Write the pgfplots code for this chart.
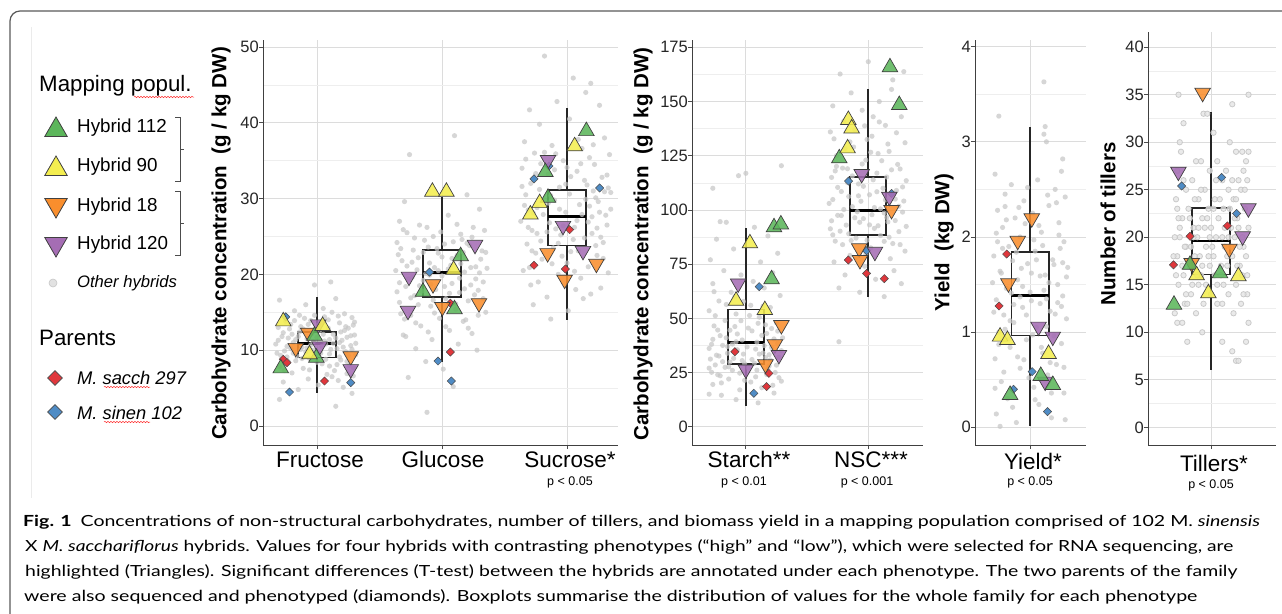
\documentclass[border=0pt]{standalone}
\usepackage{pgfplots}
\pgfplotsset{compat=1.18}
\usetikzlibrary{decorations.pathmorphing}
\usepackage{graphicx}
\usepackage{fontspec}
\setmainfont{Liberation Sans}
\newfontfamily\capfont{Lato}
\definecolor{gridmaj}{HTML}{DCDCDC}
\definecolor{gridmin}{HTML}{EEEEEE}
\definecolor{ptgray}{HTML}{C6C6C6}
\definecolor{hgreen}{HTML}{5CB65B}
\definecolor{hyellow}{HTML}{F4EE50}
\definecolor{horange}{HTML}{F98E2D}
\definecolor{hpurple}{HTML}{A56DB4}
\definecolor{hred}{HTML}{E0373C}
\definecolor{hblue}{HTML}{4F8CC5}
\pgfplotsset{
 panel/.style={
   scale only axis, height=405pt,
   axis lines*=left, axis line style={-, draw=black!75, line width=0.9pt},
   tick align=outside, major tick length=4pt, minor tick length=0pt,
   tick style={draw=black!70, line width=0.8pt},
   xmajorgrids, ymajorgrids, yminorgrids, minor y tick num=1,
   major grid style={draw=gridmaj, line width=0.8pt},
   minor grid style={draw=gridmin, line width=0.6pt},
   xticklabel={\mbox{}},
   yticklabel style={font=\fontsize{16.5}{16.5}\selectfont, text=black!85, inner sep=0pt, xshift=0pt},
   /pgf/number format/assume math mode=true,
 },
 gpt/.style={only marks, mark=*, mark size=2.6pt, color=ptgray, mark options={fill=ptgray, draw=ptgray, fill opacity=0.72, draw opacity=0}},
 gring/.style={only marks, mark=*, mark size=2.7pt, color=ptgray, mark options={draw=ptgray, line width=0.8pt, fill=ptgray!45, fill opacity=0.8, draw opacity=0.9}},
 tup/.style={only marks, mark=triangle*, mark size=9pt, mark options={draw=black!75, line width=0.7pt, fill=#1, fill opacity=0.88}},
 tdn/.style={only marks, mark=triangle*, mark size=9pt, mark options={rotate=180, draw=black!75, line width=0.7pt, fill=#1, fill opacity=0.88}},
 dia/.style={only marks, mark=square*, mark size=2.9pt, mark options={rotate=45, draw=black!70, line width=0.5pt, fill=#1}},
 bx/.style={mark=none, draw=black!85, line width=1.6pt, line cap=rect},
 med/.style={mark=none, draw=black, line width=2.8pt},
}
\begin{document}
\begin{tikzpicture}[x=1pt,y=1pt]
% ---------- overlay (frame, legend, labels, caption) in pixel coordinates
\begin{axis}[at={(0pt,0pt)}, anchor=south west, scale only axis, width=1282pt, height=613pt,
  xmin=0, xmax=1282, ymin=0, ymax=613, y dir=reverse, hide axis, clip=false]
\draw[black!65, line width=1.2pt, rounded corners=10pt] (axis cs:10,640) -- (axis cs:10,11) -- (axis cs:1300,11);
\draw[black!8, line width=0.8pt] (axis cs:31,27) -- (axis cs:31,498);
% legend
\node[anchor=west, inner sep=0pt, font=\fontsize{22.3}{22.3}\selectfont] at (axis cs:39,86) {Mapping popul.};
\draw[red!80, line width=0.5pt, decorate, decoration={snake, segment length=3pt, amplitude=0.7pt}] (axis cs:134,97) -- (axis cs:194,97);
\addplot[only marks, mark=triangle*, mark size=13pt, mark options={fill=hgreen, draw=black!75, line width=0.8pt}] coordinates {(56,130)};
\addplot[only marks, mark=triangle*, mark size=13pt, mark options={fill=hyellow, draw=black!75, line width=0.8pt}] coordinates {(56,169)};
\addplot[only marks, mark=triangle*, mark size=13pt, mark options={rotate=180, fill=horange, draw=black!75, line width=0.8pt}] coordinates {(56,205)};
\addplot[only marks, mark=triangle*, mark size=13pt, mark options={rotate=180, fill=hpurple, draw=black!75, line width=0.8pt}] coordinates {(56,244)};
\addplot[only marks, mark=*, mark size=4pt, mark options={fill=ptgray!50, draw=ptgray, line width=0.6pt}] coordinates {(53,283)};
\addplot[only marks, mark=square*, mark size=5.2pt, mark options={rotate=45, fill=hred, draw=black!70, line width=0.6pt}] coordinates {(55,378)};
\addplot[only marks, mark=square*, mark size=5.2pt, mark options={rotate=45, fill=hblue, draw=black!70, line width=0.6pt}] coordinates {(55,412)};
\node[anchor=west, inner sep=0pt, font=\fontsize{18.8}{18.8}\selectfont] at (axis cs:77,128) {Hybrid 112};
\node[anchor=west, inner sep=0pt, font=\fontsize{18.8}{18.8}\selectfont] at (axis cs:77,167) {Hybrid 90};
\node[anchor=west, inner sep=0pt, font=\fontsize{18.8}{18.8}\selectfont] at (axis cs:77,207) {Hybrid 18};
\node[anchor=west, inner sep=0pt, font=\fontsize{18.8}{18.8}\selectfont] at (axis cs:77,245) {Hybrid 120};
\node[anchor=west, inner sep=0pt, font=\fontsize{16.6}{16.6}\selectfont\itshape] at (axis cs:77,283) {Other hybrids};
\node[anchor=west, inner sep=0pt, font=\fontsize{22.3}{22.3}\selectfont] at (axis cs:39,338) {Parents};
\node[anchor=west, inner sep=0pt, font=\fontsize{18.3}{18.3}\selectfont\itshape] at (axis cs:77,378) {M. sacch 297};
\node[anchor=west, inner sep=0pt, font=\fontsize{18.3}{18.3}\selectfont\itshape] at (axis cs:77,413) {M. sinen 102};
\draw[red!80, line width=0.5pt, decorate, decoration={snake, segment length=3pt, amplitude=0.7pt}] (axis cs:104,387) -- (axis cs:150,387);
\draw[red!80, line width=0.5pt, decorate, decoration={snake, segment length=3pt, amplitude=0.7pt}] (axis cs:104,422) -- (axis cs:150,422);
\draw[black!70, line width=0.8pt] (axis cs:175,117) -- (axis cs:180,117) -- (axis cs:180,181) -- (axis cs:175,181);
\draw[black!70, line width=0.8pt] (axis cs:180,149) -- (axis cs:184,149);
\draw[black!70, line width=0.8pt] (axis cs:175,191) -- (axis cs:180,191) -- (axis cs:180,255) -- (axis cs:175,255);
\draw[black!70, line width=0.8pt] (axis cs:180,223) -- (axis cs:184,223);
% y axis titles
\node[rotate=90, font=\fontsize{20.5}{20.5}\selectfont\bfseries] at (axis cs:221,243.5) {Carbohydrate concentration~ (g / kg DW)};
\node[rotate=90, font=\fontsize{20.5}{20.5}\selectfont\bfseries] at (axis cs:643,244) {Carbohydrate concentration~ (g / kg DW)};
\node[rotate=90, font=\fontsize{20.5}{20.5}\selectfont\bfseries] at (axis cs:944,242.5) {Yield~ (kg DW)};
\node[rotate=90, font=\fontsize{20.5}{20.5}\selectfont\bfseries] at (axis cs:1108,224) {Number of tillers};
% category labels
\node[anchor=base, inner sep=0pt, font=\fontsize{22.5}{22.5}\selectfont] at (axis cs:320,467) {Fructose};
\node[anchor=base, inner sep=0pt, font=\fontsize{22.5}{22.5}\selectfont] at (axis cs:443,467) {Glucose};
\node[anchor=base, inner sep=0pt, font=\fontsize{22.5}{22.5}\selectfont] at (axis cs:570,467) {Sucrose*};
\node[anchor=base, inner sep=0pt, font=\fontsize{22.5}{22.5}\selectfont] at (axis cs:749,467) {Starch**};
\node[anchor=base, inner sep=0pt, font=\fontsize{22.5}{22.5}\selectfont] at (axis cs:871,467) {NSC***};
\node[anchor=base, inner sep=0pt, font=\fontsize{22.5}{22.5}\selectfont] at (axis cs:1033,469) {Yield*};
\node[anchor=base, inner sep=0pt, font=\fontsize{22.5}{22.5}\selectfont] at (axis cs:1214,471) {Tillers*};
\node[anchor=base, inner sep=0pt, font=\fontsize{12.5}{12.5}\selectfont] at (axis cs:570,485) {p < 0.05};
\node[anchor=base, inner sep=0pt, font=\fontsize{12.5}{12.5}\selectfont] at (axis cs:744,485) {p < 0.01};
\node[anchor=base, inner sep=0pt, font=\fontsize{12.5}{12.5}\selectfont] at (axis cs:867,485) {p < 0.001};
\node[anchor=base, inner sep=0pt, font=\fontsize{12.5}{12.5}\selectfont] at (axis cs:1030,485) {p < 0.05};
\node[anchor=base, inner sep=0pt, font=\fontsize{12.5}{12.5}\selectfont] at (axis cs:1211,488) {p < 0.05};
% caption
\node[anchor=base west, inner sep=0pt] at (axis cs:23,526) {\resizebox{1237pt}{\height}{\capfont\fontsize{15.3}{18}\selectfont{\bfseries Fig. 1}\hspace{7pt}Concentrations of non-structural carbohydrates, number of tillers, and biomass yield in a mapping population comprised of 102 M. \textit{sinensis}}};
\node[anchor=base west, inner sep=0pt] at (axis cs:25,551) {\resizebox{1208pt}{\height}{\capfont\fontsize{15.3}{18}\selectfont X \textit{M. sacchariflorus} hybrids. Values for four hybrids with contrasting phenotypes (“high” and “low”), which were selected for RNA sequencing, are}};
\node[anchor=base west, inner sep=0pt] at (axis cs:25,576) {\resizebox{1212pt}{\height}{\capfont\fontsize{15.3}{18}\selectfont highlighted (Triangles). Significant differences (T-test) between the hybrids are annotated under each phenotype. The two parents of the family}};
\node[anchor=base west, inner sep=0pt] at (axis cs:24,601) {\resizebox{1173pt}{\height}{\capfont\fontsize{15.3}{18}\selectfont were also sequenced and phenotyped (diamonds). Boxplots summarise the distribution of values for the whole family for each phenotype}};
\end{axis}

% ---------- Panel 1: sugars
\begin{axis}[panel, at={(263pt,168pt)}, anchor=south west, width=355pt,
  xmin=-0.432, xmax=2.408, ymin=-2.51, ymax=50.92, xtick={0,1,2}, ytick={0,10,20,30,40,50}]
\addplot[gpt] coordinates {
(-0.30,16.6) (-0.02,18.6) (0.11,19.0) (0.15,16.8) (-0.18,15.2) (0.05,15.5) (-0.25,14.5) (0.22,14.8) (-0.10,14.2) (0.28,14.3)
(-0.31,13.0) (0.18,13.6) (-0.05,13.9) (0.09,14.0) (-0.22,12.8) (0.25,12.9) (-0.14,12.4) (0.02,12.6) (0.30,12.0) (-0.28,11.8)
(0.13,12.1) (-0.08,11.5) (0.20,11.3) (-0.19,11.0) (0.06,11.2) (-0.33,10.8) (0.27,10.6) (-0.12,10.4) (0.16,10.2) (-0.03,10.0)
(0.23,9.8) (-0.26,9.9) (0.10,9.5) (-0.16,9.2) (0.31,9.4) (-0.06,8.9) (0.19,8.7) (-0.23,8.5) (0.04,8.2) (0.26,8.0)
(-0.30,7.8) (-0.11,7.6) (0.14,7.3) (-0.20,7.0) (0.08,6.8) (0.29,6.6) (-0.07,6.2) (0.17,6.0) (-0.27,5.8) (0.01,5.4)
(0.21,5.1) (-0.15,4.8) (0.28,4.3) (-0.30,3.5) (0.15,2.6) (-0.21,13.4) (0.12,15.0) (-0.09,16.0) (0.24,11.7) (-0.04,12.2)
(0.07,10.8) (-0.24,10.5) (0.18,9.1) (-0.13,13.1) (0.29,13.3) (0.00,8.4) (-0.17,11.4) (0.10,7.9) (-0.32,9.6) (0.24,6.9)
(-0.27,12.3) (-0.21,10.2) (-0.15,11.8) (-0.09,9.8) (-0.03,11.1) (0.03,9.6) (0.09,12.9) (0.15,11.6) (0.21,10.4) (0.27,11.9)
(-0.29,9.3) (-0.23,11.6) (-0.17,8.6) (-0.11,12.8) (-0.05,10.7) (0.01,13.3) (0.07,8.8) (0.13,10.9) (0.19,12.4) (0.25,9.3)
(0.31,10.9) (-0.25,13.8) (-0.19,9.6) (-0.13,10.1) (-0.07,13.4) (-0.01,9.2) (0.05,12.1) (0.11,10.1) (0.17,14.5) (0.23,13.1)
(0.29,7.7) (-0.31,11.3) (-0.26,7.3) (-0.20,12.1) (-0.14,14.6) (-0.08,10.3) (-0.02,14.6) (0.04,10.5) (0.10,11.4) (0.16,8.1)
(0.22,12.6) (0.28,10.1) (-0.24,9.1) (-0.18,13.9) (-0.12,8.9) (-0.06,7.4) (0.00,11.7) (0.06,14.4) (0.12,6.5) (0.18,11.0) (0.24,8.5) (0.30,13.7)
(0.74,35.8) (1.10,38.3) (0.88,1.8) (0.70,29.6) (1.20,30.5) (1.30,28.6) (0.66,27.0) (0.82,26.5) (1.05,27.8) (1.25,26.2)
(0.72,25.5) (0.93,25.0) (1.15,25.3) (1.34,25.8) (0.64,24.2) (0.86,24.5) (1.02,24.0) (1.22,23.8) (0.77,23.2) (0.97,22.8)
(1.12,22.5) (1.31,22.0) (0.68,21.8) (0.90,21.5) (1.07,21.2) (1.27,21.0) (0.80,20.6) (1.00,19.8) (1.18,20.3) (0.63,20.5)
(0.85,19.2) (1.08,18.8) (1.33,19.0) (0.71,18.4) (0.95,18.0) (1.14,17.6) (1.29,17.9) (0.78,17.2) (1.03,16.8) (1.21,16.5)
(0.66,16.3) (0.91,15.8) (1.11,15.4) (1.35,15.0) (0.75,14.6) (0.98,14.2) (1.17,13.8) (0.83,13.2) (1.06,12.6) (1.24,12.2)
(0.69,12.0) (0.92,11.4) (1.13,10.8) (0.79,10.2) (1.28,10.0) (0.87,8.5) (1.01,7.5) (0.73,6.4) (1.09,5.2) (0.65,22.6)
(0.89,23.6) (1.16,24.6) (0.76,19.6) (1.23,18.6) (0.94,20.9) (1.36,20.8) (0.81,16.0) (1.19,14.0) (0.67,14.8)
(0.66,18.9) (0.72,21.1) (0.78,24.8) (0.84,17.8) (0.90,19.9) (0.96,23.4) (1.02,18.4) (1.08,22.1) (1.14,19.5) (1.20,24.1)
(1.26,17.3) (1.32,23.1) (0.69,25.9) (0.75,16.9) (0.81,22.2) (0.87,20.1) (0.93,16.6) (0.99,25.6) (1.05,20.7) (1.11,16.1)
(1.17,22.9) (1.23,20.9) (1.29,14.6) (1.35,22.9) (0.64,17.7) (0.70,14.1) (0.76,21.6) (0.82,18.5) (0.88,26.2) (0.94,14.9)
(1.00,22.3) (1.06,17.5) (1.12,26.6) (1.18,18.1) (1.24,24.9) (1.30,20.2) (0.67,23.4) (0.73,19.4) (0.79,13.6) (0.85,22.9)
(0.91,18.7) (0.97,20.5) (1.03,13.1) (1.09,24.3) (1.15,21.4) (1.21,12.9) (1.27,19.4) (1.33,16.8) (0.71,11.8) (0.89,12.4)
(1.82,48.8) (2.05,45.9) (2.19,45.2) (2.15,44.0) (1.92,42.8) (1.70,41.7) (2.26,42.3) (1.78,39.8) (2.02,40.5) (2.30,38.0)
(1.66,37.5) (1.88,37.0) (2.12,36.6) (2.34,35.8) (1.74,36.0) (1.97,35.0) (2.22,34.5) (1.64,34.0) (1.85,33.2) (2.08,33.6)
(2.28,32.8) (1.71,32.0) (1.94,31.5) (2.16,31.8) (2.35,30.8) (1.67,30.5) (1.90,29.8) (2.10,29.2) (2.25,29.6) (1.76,28.8)
(1.99,28.2) (2.20,27.6) (1.63,27.0) (1.86,26.8) (2.06,26.2) (2.32,26.5) (1.72,25.8) (1.95,25.2) (2.14,24.8) (2.29,24.2)
(1.68,24.0) (1.89,23.5) (2.03,23.0) (2.24,22.5) (1.80,22.0) (2.00,21.5) (2.17,21.0) (1.65,20.5) (1.93,20.0) (2.11,19.5)
(2.33,20.2) (1.77,19.0) (2.07,18.0) (2.27,18.2) (1.84,17.0) (2.13,16.8) (1.73,16.0) (2.01,15.2) (1.87,14.1) (2.21,31.0)
(1.79,34.6) (2.18,29.0) (1.69,28.5) (2.09,37.8) (2.31,27.8) (1.91,26.0) (2.23,23.8) (1.75,22.8)
(1.66,29.1) (1.72,23.1) (1.78,31.2) (1.84,25.6) (1.90,33.8) (1.96,22.4) (2.02,30.6) (2.08,27.1) (2.14,32.4) (2.20,25.4)
(2.26,28.2) (2.32,33.1) (1.69,26.2) (1.75,33.3) (1.81,27.9) (1.87,30.4) (1.93,24.1) (1.99,31.9) (2.05,24.6) (2.11,34.6)
(2.17,26.9) (2.23,30.1) (2.29,22.1) (2.35,28.6) (1.64,31.6) (1.70,20.9) (1.76,25.4) (1.82,36.1) (1.88,21.4) (1.94,28.6)
(2.00,34.1) (2.06,20.4) (2.12,27.9) (2.18,35.4) (2.24,26.1) (2.30,30.9) (1.67,35.2) (1.73,28.1) (1.79,24.4) (1.85,29.4)
(1.91,35.9) (1.97,26.4) (2.03,32.9) (2.09,23.1) (2.15,29.9) (2.21,37.1) (2.27,24.9) (2.33,31.4) (1.71,18.6) (2.19,17.4)
};
% boxes: Fructose, Glucose, Sucrose
\addplot[bx] coordinates {(-0.152,9.05) (0.152,9.05) (0.152,12.4) (-0.152,12.4) (-0.152,9.05)};
\addplot[bx] coordinates {(0,12.4) (0,16.9)};
\addplot[bx] coordinates {(0,9.05) (0,4.4)};
\addplot[med] coordinates {(-0.152,10.9) (0.152,10.9)};
\addplot[bx] coordinates {(0.848,17.0) (1.152,17.0) (1.152,23.2) (0.848,23.2) (0.848,17.0)};
\addplot[bx] coordinates {(1,23.2) (1,30.1)};
\addplot[bx] coordinates {(1,17.0) (1,8.6)};
\addplot[med] coordinates {(0.848,20.2) (1.152,20.2)};
\addplot[bx] coordinates {(1.848,23.8) (2.152,23.8) (2.152,31.1) (1.848,31.1) (1.848,23.8)};
\addplot[bx] coordinates {(2,31.1) (2,41.8)};
\addplot[bx] coordinates {(2,23.8) (2,14.1)};
\addplot[med] coordinates {(1.848,27.6) (2.152,27.6)};
\addplot[dia=hred] coordinates {(-0.27,8.8) (-0.24,8.35) (0.06,5.93) (1.067,9.75) (1.067,16.2) (1.736,21.2) (1.987,20.7) (2.021,25.9)};
\addplot[dia=hblue] coordinates {(-0.22,4.48) (0.27,5.71) (-0.25,14.4) (0.90,20.3) (0.968,8.57) (1.075,5.93) (1.736,32.6) (2.261,31.4) (1.856,34.3)};
\addplot[tdn=horange] coordinates {(-0.17,10.3) (-0.07,12.3) (0.27,9.2) (0.928,18.7) (1.003,15.7) (1.296,16.2) (1.845,22.8) (1.981,19.3) (2.235,21.4)};
\addplot[tdn=hpurple] coordinates {(0.01,13.4) (0.02,10.5) (0.27,7.5) (0.736,19.7) (0.728,15.2) (1.264,23.9) (1.848,35.1) (1.968,26.4) (2.128,23.1)};
\addplot[tup=hgreen] coordinates {(-0.29,7.6) (-0.02,11.9) (-0.005,9.0) (0.848,17.7) (1.149,22.4) (1.10,15.4) (1.827,33.5) (1.848,30.1) (2.155,38.9)};
\addplot[tup=hyellow] coordinates {(-0.27,13.8) (0.045,13.2) (-0.06,9.45) (0.923,30.9) (1.035,30.9) (1.093,20.6) (1.707,27.9) (1.781,29.4) (2.061,36.9)};
\end{axis}

% ---------- Panel 2: starch, NSC
\begin{axis}[panel, at={(692pt,168pt)}, anchor=south west, width=231pt,
  xmin=-0.44, xmax=1.447, ymin=-8.44, ymax=178.4, xtick={0,1}, ytick={0,25,50,75,100,125,150,175}]
\addplot[gpt] coordinates {
(0.29,120.4) (0.00,116.9) (-0.06,115.8) (-0.27,110.0) (-0.16,94.3) (-0.21,94.6) (0.07,92.0) (-0.24,86.5) (0.18,88.0) (-0.10,82.0)
(0.26,80.0) (-0.29,77.0) (0.12,76.0) (-0.18,72.0) (0.22,71.0) (-0.04,70.0) (-0.27,66.0) (0.15,64.0) (-0.12,62.0) (0.28,60.5)
(-0.22,58.0) (0.04,56.0) (0.20,55.0) (-0.30,53.5) (-0.08,52.0) (0.11,50.5) (-0.17,49.0) (0.25,48.0) (-0.26,46.5) (0.02,45.5)
(-0.13,44.5) (0.17,43.0) (-0.21,42.0) (0.30,41.0) (-0.03,40.0) (0.09,39.0) (-0.28,38.0) (-0.15,37.0) (0.21,36.5) (-0.07,35.5)
(0.14,34.0) (-0.24,33.0) (0.27,32.0) (0.05,31.0) (-0.19,30.0) (-0.01,29.0) (0.19,28.0) (-0.30,27.0) (-0.11,26.0) (0.24,25.0)
(-0.23,24.0) (0.08,23.0) (-0.14,22.0) (0.29,21.0) (-0.27,19.5) (0.13,18.0) (-0.05,17.0) (0.23,15.5) (-0.20,14.5) (-0.08,12.5)
(0.10,11.0) (-0.30,15.0) (0.16,47.0) (-0.09,60.0) (0.06,67.0) (-0.25,28.5) (0.26,38.5) (-0.02,33.5) (0.18,26.5) (-0.16,41.0)
(-0.29,31.2) (-0.23,44.6) (-0.17,27.4) (-0.11,38.1) (-0.05,24.7) (0.01,36.8) (0.07,29.3) (0.13,42.1) (0.19,33.2) (0.25,28.4)
(-0.27,40.3) (-0.21,23.5) (-0.15,33.9) (-0.09,46.2) (-0.03,30.5) (0.03,51.3) (0.09,26.1) (0.15,37.4) (0.21,45.3) (0.27,22.6)
(-0.30,36.1) (-0.25,51.2) (-0.19,37.5) (-0.13,29.8) (-0.07,42.8) (-0.01,21.4) (0.05,44.2) (0.11,33.5) (0.17,24.1) (0.23,40.5)
(0.29,35.1) (-0.28,25.1) (-0.22,32.6) (-0.16,56.4) (-0.10,31.5) (-0.04,48.9) (0.02,27.2) (0.08,35.8) (0.14,55.6) (0.20,30.8)
(0.26,44.1) (-0.26,62.3) (-0.20,20.2) (-0.14,27.6) (-0.08,39.2) (-0.02,57.8) (0.04,20.6) (0.10,47.7) (0.16,31.9) (0.22,19.1)
(1.00,168.4) (1.29,163.8) (0.77,162.7) (1.20,160.0) (1.19,155.6) (0.86,154.0) (1.09,150.0) (0.71,148.0) (0.95,146.0) (1.27,143.0)
(0.80,141.0) (1.14,139.0) (0.69,136.0) (1.03,134.0) (1.30,131.0) (0.88,129.0) (1.17,127.0) (0.74,125.0) (0.98,123.0) (1.24,121.0)
(0.83,119.0) (1.07,117.0) (0.70,115.0) (1.31,113.5) (0.92,112.0) (1.12,110.0) (0.78,108.5) (1.01,107.0) (1.22,105.0) (0.68,103.0)
(0.87,101.5) (1.10,100.5) (1.28,99.0) (0.75,97.5) (0.96,96.0) (1.16,94.5) (0.82,93.0) (1.05,91.5) (1.25,90.0) (0.71,88.5)
(0.90,87.0) (1.13,85.5) (0.79,84.0) (1.02,82.5) (1.30,81.0) (0.85,79.0) (1.18,77.5) (0.72,76.0) (0.97,74.0) (1.21,72.0)
(0.81,70.0) (1.06,68.0) (1.27,66.0) (0.76,64.0) (0.93,62.0) (1.13,60.0) (0.76,39.2) (1.08,126.0) (0.89,137.0) (1.23,109.0)
(0.73,118.0) (1.04,143.0) (0.94,104.0) (1.15,96.5) (0.84,89.0) (1.26,84.0) (0.99,86.0) (0.70,95.0)
(0.71,104.8) (0.77,90.2) (0.83,112.6) (0.89,96.4) (0.95,121.2) (1.01,93.1) (1.07,108.4) (1.13,98.6) (1.19,118.5) (1.25,101.7)
(1.31,92.4) (0.74,120.1) (0.80,100.2) (0.86,85.9) (0.92,106.5) (0.98,79.6) (1.04,113.9) (1.10,88.2) (1.16,130.4) (1.22,95.1)
(1.28,110.6) (0.69,91.3) (0.75,110.4) (0.81,128.3) (0.87,115.7) (0.93,94.3) (0.99,132.5) (1.05,101.1) (1.11,122.7) (1.17,87.4)
(1.23,135.6) (1.29,104.1) (0.72,132.8) (0.78,97.4) (0.84,106.2) (0.90,78.1) (0.96,110.9) (1.02,126.6) (1.08,92.7) (1.14,104.6)
(1.20,84.5) (1.26,118.9) (0.73,85.6) (0.79,119.3) (0.85,131.4) (0.91,99.2) (0.97,138.8) (1.03,97.8) (1.09,140.6) (1.15,115.2)
};
\addplot[bx] coordinates {(-0.147,28.9) (0.147,28.9) (0.147,54.1) (-0.147,54.1) (-0.147,28.9)};
\addplot[bx] coordinates {(0,54.1) (0,91.5)};
\addplot[bx] coordinates {(0,28.9) (0,10.0)};
\addplot[med] coordinates {(-0.147,38.75) (0.147,38.75)};
\addplot[bx] coordinates {(0.853,88.4) (1.147,88.4) (1.147,115.3) (0.853,115.3) (0.853,88.4)};
\addplot[bx] coordinates {(1,115.3) (1,155.6)};
\addplot[bx] coordinates {(1,88.4) (1,60.0)};
\addplot[med] coordinates {(0.853,99.6) (1.147,99.6)};
\addplot[dia=hred] coordinates {(-0.09,34.6) (0.188,24.6) (0.169,18.5) (0.837,76.9) (0.986,70.7) (1.131,68.3)};
\addplot[dia=hblue] coordinates {(0.109,64.6) (0.065,15.4) (0.839,113.3) (0.986,81.2) (1.19,107.6)};
\addplot[tdn=horange] coordinates {(0.29,46.9) (0.237,38) (0.16,28.8) (1.19,100) (0.926,82.3) (0.932,76.9)};
\addplot[tdn=hpurple] coordinates {(-0.063,66.1) (0,26.4) (0.27,33.1) (0.946,116.6) (1.172,106.1) (1.054,80.7)};
\addplot[tup=hgreen] coordinates {(0.23,92) (0.286,93.3) (0.21,68) (1.177,165.8) (1.253,148.4) (0.763,123.8)};
\addplot[tup=hyellow] coordinates {(0.033,84.6) (-0.08,58.1) (0.155,53.8) (0.837,141.5) (0.864,137.6) (0.831,128.4)};
\end{axis}

% ---------- Panel 3: yield
\begin{axis}[panel, at={(975pt,168pt)}, anchor=south west, width=111pt,
  xmin=-0.44, xmax=0.446, ymin=-0.186, ymax=4.07, xtick={0}, ytick={0,1,2,3,4}]
\addplot[gpt] coordinates {
(0.11,3.63) (-0.25,3.27) (0.12,3.16) (0.11,3.08) (0.13,3.00) (0.26,2.82) (0.25,2.69) (-0.28,2.66) (0.06,2.60) (-0.15,2.55)
(0.20,2.50) (-0.20,2.45) (0.28,2.42) (-0.05,2.38) (0.15,2.33) (-0.26,2.28) (0.02,2.25) (-0.12,2.20) (0.23,2.15) (-0.22,2.10)
(0.09,2.05) (-0.08,2.00) (0.27,1.95) (-0.17,1.90) (0.04,1.85) (-0.29,1.80) (0.18,1.76) (-0.02,1.72) (0.30,1.68) (-0.24,1.64)
(0.12,1.60) (-0.10,1.55) (0.22,1.50) (-0.19,1.46) (0.00,1.42) (0.26,1.38) (-0.27,1.34) (0.08,1.30) (-0.06,1.26) (0.16,1.22)
(-0.21,1.18) (0.29,1.14) (-0.13,1.10) (0.05,1.05) (-0.25,1.00) (0.19,0.96) (-0.03,0.92) (0.25,0.88) (-0.16,0.84) (0.10,0.78)
(-0.28,0.72) (0.21,0.66) (-0.08,0.62) (0.14,0.55) (-0.23,0.48) (0.03,0.42) (0.27,0.36) (-0.18,0.30) (0.07,0.24) (-0.27,0.14)
(0.17,0.10) (-0.11,0.05) (-0.24,0.01) (0.28,0.08) (0.01,1.62) (-0.14,1.75) (0.24,1.88) (-0.06,1.48) (0.13,1.35) (-0.20,2.32)
(-0.29,1.21) (-0.23,1.62) (-0.17,0.93) (-0.11,1.84) (-0.05,0.71) (0.01,1.33) (0.07,2.12) (0.13,1.06) (0.19,1.71) (0.25,1.27)
(-0.27,2.04) (-0.21,0.58) (-0.15,1.41) (-0.09,2.31) (-0.03,1.18) (0.03,1.97) (0.09,0.84) (0.15,1.52) (0.21,2.36) (0.27,0.63)
(-0.30,1.52) (-0.25,0.87) (-0.19,2.18) (-0.13,1.29) (-0.07,1.67) (-0.01,0.52) (0.05,1.76) (0.11,1.44) (0.17,0.36) (0.23,2.02)
(0.29,1.58) (-0.28,0.41) (-0.22,1.88) (-0.16,1.12) (-0.10,0.74) (-0.04,2.14) (0.02,0.97) (0.08,1.59) (0.14,2.44) (0.20,1.19)
(0.26,1.73) (-0.26,1.95) (-0.20,1.03) (-0.14,0.21) (-0.08,1.37) (-0.02,2.52) (0.04,0.29) (0.10,1.91) (0.16,0.68) (0.22,1.31)
};
\addplot[bx] coordinates {(-0.15,0.963) (0.15,0.963) (0.15,1.839) (-0.15,1.839) (-0.15,0.963)};
\addplot[bx] coordinates {(0,1.839) (0,3.149)};
\addplot[bx] coordinates {(0,0.963) (0,0.018)};
\addplot[med] coordinates {(-0.15,1.384) (0.15,1.384)};
\addplot[dia=hred] coordinates {(-0.187,1.821) (-0.248,1.275)};
\addplot[dia=hblue] coordinates {(-0.133,0.40) (0.016,0.585) (0.139,0.165)};
\addplot[tdn=horange] coordinates {(0.013,2.196) (-0.099,1.96) (-0.173,1.513)};
\addplot[tdn=hpurple] coordinates {(0.067,1.058) (0.181,0.953) (0.12,0.48)};
\addplot[tup=hgreen] coordinates {(-0.16,0.34) (0.085,0.54) (0.181,0.445)};
\addplot[tup=hyellow] coordinates {(-0.24,0.953) (-0.181,0.918) (0.147,0.771)};
\end{axis}

% ---------- Panel 4: tillers
\begin{axis}[panel, at={(1148pt,168pt)}, anchor=south west, width=128pt, height=413pt,
  xmin=-0.504, xmax=0.52, ymin=-1.86, ymax=41.6, xtick={0}, ytick={0,5,10,15,20,25,30,35,40}]
\addplot[gring] coordinates {
(-0.26,35) (0.30,35) (0.17,34) (-0.06,33) (-0.03,33) (-0.22,32) (0.02,31) (-0.25,30) (0.15,30) (0.25,29)
(0.30,29) (-0.24,29) (0.20,29) (-0.12,28) (-0.08,28) (0.05,28) (0.28,28) (-0.27,27) (-0.01,27) (0.12,27)
(0.26,27) (-0.15,26) (0.09,26) (0.22,26) (0.29,26) (-0.20,25) (-0.05,25) (0.14,25) (0.24,25) (-0.28,24)
(-0.10,24) (0.03,24) (0.18,24) (-0.18,23) (-0.02,23) (0.10,23) (0.27,23) (-0.23,22) (-0.07,22) (0.06,22)
(0.21,22) (-0.14,21) (0.00,21) (0.16,21) (0.30,21) (-0.25,20) (-0.11,20) (0.04,20) (0.19,20) (-0.20,19)
(-0.04,19) (0.11,19) (0.26,19) (-0.27,18) (-0.13,18) (0.02,18) (0.17,18) (0.28,18) (-0.17,17) (-0.01,17)
(0.13,17) (0.23,17) (-0.22,16) (-0.08,16) (0.08,16) (0.25,16) (-0.26,15) (-0.10,15) (0.05,15) (0.20,15)
(-0.16,14) (0.00,14) (0.14,14) (0.29,14) (-0.21,13) (-0.06,13) (0.09,13) (0.24,13) (-0.29,12) (-0.12,12)
(0.18,12) (-0.27,11) (-0.23,11) (0.30,11) (-0.07,10) (-0.19,9) (0.09,9) (0.28,9) (0.17,8) (0.20,7) (0.22,7)
(-0.29,20) (-0.23,17) (-0.17,22) (-0.11,16) (-0.05,21) (0.01,19) (0.07,24) (0.13,18) (0.19,22) (0.25,20)
(-0.27,23) (-0.21,19) (-0.15,15) (-0.09,18) (-0.03,22) (0.03,16) (0.09,20) (0.15,23) (0.21,17) (0.27,25)
(-0.30,18) (-0.25,21) (-0.19,13) (-0.13,24) (-0.07,17) (-0.01,20) (0.05,13) (0.11,21) (0.17,26) (0.23,19)
(0.29,16) (-0.28,16) (-0.22,26) (-0.16,19) (-0.10,21) (-0.04,15) (0.02,23) (0.08,17) (0.14,20) (0.20,24)
(0.26,14) (-0.26,22) (-0.20,14) (-0.14,20) (-0.08,25) (-0.02,18) (0.04,26) (0.10,15) (0.16,19) (0.22,21)
};
\addplot[bx] coordinates {(-0.15,16.1) (0.15,16.1) (0.15,23.05) (-0.15,23.05) (-0.15,16.1)};
\addplot[bx] coordinates {(0,23.05) (0,33.05)};
\addplot[bx] coordinates {(0,16.1) (0,6.1)};
\addplot[med] coordinates {(-0.15,19.6) (0.15,19.6)};
\addplot[dia=hred] coordinates {(-0.3,17.1) (-0.168,20.1) (0.131,21.2)};
\addplot[dia=hblue] coordinates {(-0.235,25.4) (0.085,26.3) (0.205,22.5)};
\addplot[tdn=horange] coordinates {(-0.067,35.2) (0.147,18.8) (-0.155,17.3)};
\addplot[tdn=hpurple] coordinates {(-0.261,26.9) (0.299,23.05) (0.253,20.1)};
\addplot[tup=hgreen] coordinates {(-0.296,12.9) (-0.168,17.1) (0.072,16.2)};
\addplot[tup=hyellow] coordinates {(-0.115,16.0) (-0.021,14.1) (0.219,15.9)};
\end{axis}
\pgfresetboundingbox
\useasboundingbox (0,0) rectangle (1282,613);
\end{tikzpicture}
\end{document}
